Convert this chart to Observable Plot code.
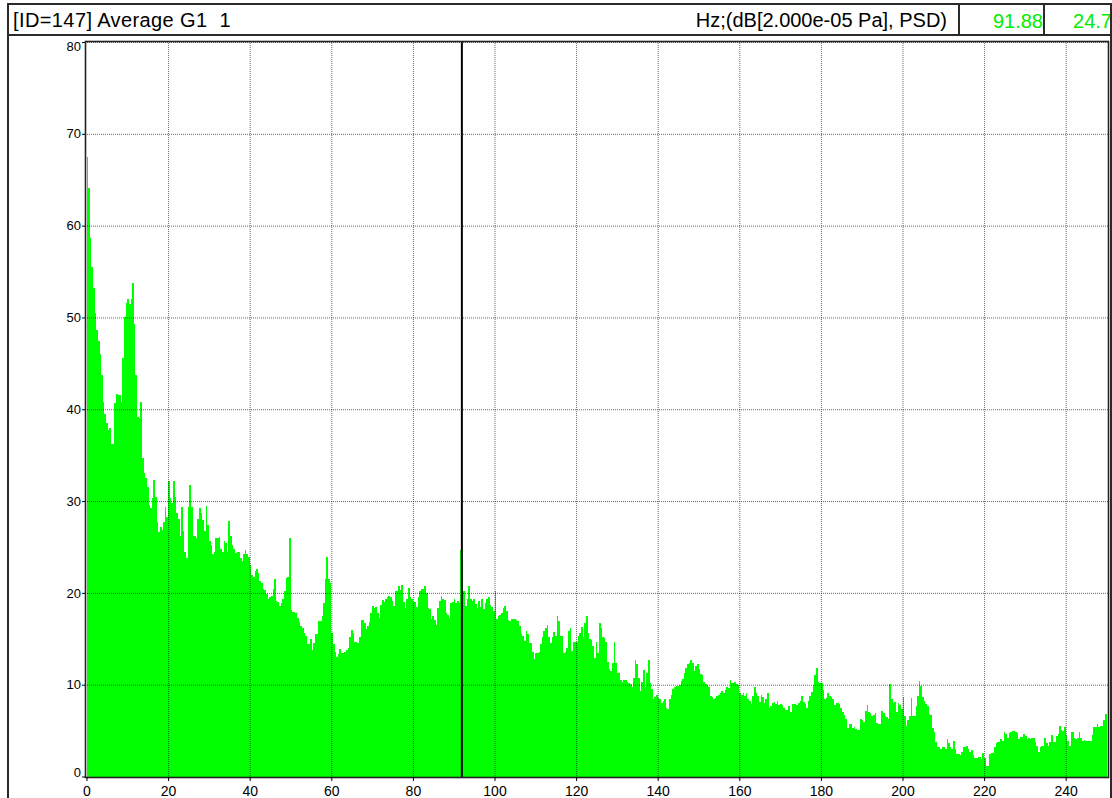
<!DOCTYPE html>
<html>
<head>
<meta charset="utf-8">
<script src="https://cdn.jsdelivr.net/npm/d3@7"></script>
<script src="https://cdn.jsdelivr.net/npm/@observablehq/plot@0.6"></script>
<style>
html, body { margin: 0; padding: 0; background: #fff; }
#page { position: relative; width: 1112px; height: 798px; overflow: hidden;
  font-family: "Liberation Sans", Arial, sans-serif; }
#header { position: relative; height: 38px; }
.box { position: absolute; box-sizing: border-box; border: 2px solid #2a2a2a; }
.txt { position: absolute; font-size: 20px; line-height: 20px; white-space: pre; color: #000; }
.green { color: #00ee00; text-align: right; }
.vline { position: absolute; top: 3px; width: 2px; height: 800px; background: #2a2a2a; }
#chart { position: absolute; left: 0; top: 38px; }
</style>
</head>
<body>
<div id="page">
  <div id="header">
    <div class="box" style="left:7px; top:3px; width:1105px; height:33px;"></div>
    <div class="box" style="left:958px; top:3px; width:87px; height:33px;"></div>
    <div class="box" style="left:1043px; top:3px; width:69px; height:33px;"></div>
    <div class="txt" id="titleL" style="left:13px; top:10px; letter-spacing:0.4px;"></div>
    <div class="txt" id="titleR" style="right:165px; top:10px;"></div>
    <div class="txt green" id="valF" style="left:960px; width:83px; top:11px;"></div>
    <div class="txt green" id="valL" style="left:1045px; width:67px; top:11px;"></div>
  </div>
  <div id="chart"></div>
  <div class="vline" style="left:7px;"></div>
  <div class="vline" style="left:1110px;"></div>
</div>
<script>
// ---- texts ----
const titleLeft = "[ID=147] Average G1  1";
const titleRight = "Hz;(dB[2.000e-05 Pa], PSD)";
const cursorFreq = 91.88;
const cursorLevel = 24.7;

// ---- axes ----
const xTicks = [0, 20, 40, 60, 80, 100, 120, 140, 160, 180, 200, 220, 240];
const yTicks = [0, 10, 20, 30, 40, 50, 60, 70, 80];
const binWidth = 0.4; // Hz

// ---- spectrum levels (dB), 0.4 Hz bins ----
const lv000 = [67.5, 64.1, 58.7, 55.5, 53.2, 50.5, 48.6, 47.4, 46, 43.7,
  40.8, 39.5, 38.5, 37.7, 38, 36.2, 36.2, 40.7, 41.7, 41.5,
  41.5, 40.8, 45.6, 50.1, 51.6, 52, 51.5, 52, 53.7, 49.3,
  43.7, 39.2, 39, 40.8, 34.7, 33.1, 32.5, 31.5, 29.6, 29.2,
  30.3, 32.3, 30.4, 27.7, 26.6, 27.2, 26.9, 27.7, 29.4, 28.3];
const lv020 = [32.2, 30.3, 29.8, 32.2, 30.4, 28.7, 28, 26.2, 29.4, 26.7,
  24.5, 23.8, 29.4, 31.8, 29.4, 26.2, 26.2, 26, 28, 29.2,
  28.7, 27.9, 26.7, 29.5, 27.4, 25.7, 25.2, 24.2, 24.5, 26,
  26, 26.1, 24.8, 24.5, 25.7, 25.4, 24.5, 27.8, 26.2, 25.2,
  24.8, 24.3, 24.5, 24.4, 23.8, 23.5, 24.2, 24.7, 24.2, 23.9];
const lv040 = [23.0, 22, 21.7, 22.4, 22.6, 22.2, 21.3, 21.1, 20.4, 20.3,
  19.9, 19.3, 19.6, 19.7, 20.4, 21.5, 19.1, 19, 18.6, 18.9,
  19.3, 20.2, 21.6, 21.7, 26, 18.1, 17.9, 17.9, 17.8, 17.3,
  16.8, 16.4, 16.2, 15.6, 15.3, 14.4, 14.4, 15, 13.8, 14.5,
  15.5, 15.5, 16.9, 16.9, 17.5, 18.9, 21.5, 23.9, 21.5, 21.1];
const lv060 = [15.6, 14.4, 13.6, 13, 13.3, 13.9, 13.5, 13.5, 13.6, 13.8,
  14, 15.2, 16, 15.6, 14.7, 14.7, 14.5, 15.2, 17.1, 17,
  16.7, 16.1, 16.4, 16.8, 17.8, 18.6, 18.4, 18.5, 17.8, 17.3,
  18.7, 19.2, 19, 19.3, 19.6, 19.7, 19.5, 19.1, 18.6, 20.2,
  20.2, 20.8, 20.3, 20.9, 19, 18.4, 19.3, 20.5, 19.6, 19.3];
const lv080 = [19, 19, 18.5, 19.6, 20.2, 20.4, 20.4, 20.7, 20, 18.4,
  18.2, 17.2, 17.5, 17, 16.5, 18.4, 19.1, 19.7, 19.3, 19.2,
  17.8, 17.6, 17.3, 18.9, 19, 19.3, 18.9, 19.1, 18.9, 24.7,
  23.6, 20.2, 18.6, 19.3, 20.8, 19.3, 19.1, 19.3, 18.8, 18.3,
  19.1, 18.5, 19.3, 18.2, 18.9, 19.3, 19.5, 18.7, 18.5, 18];
const lv100 = [20.2, 17.2, 17.5, 17.6, 17.8, 18.4, 18.6, 18, 17.1, 16.9,
  17.2, 17.2, 17.2, 17.1, 16.9, 16.4, 15.5, 15.3, 14.8, 15.8,
  15.5, 14.5, 14.5, 13.6, 12.8, 13.4, 13.5, 13.6, 14.4, 15.2,
  15.8, 16.2, 16.5, 15.2, 14.5, 15.2, 15.7, 15.3, 17.5, 16.9,
  15.3, 15.3, 13.4, 13.6, 14, 15.9, 16.2, 13.7, 14.7, 14.7];
const lv120 = [14.7, 15.3, 15.6, 16.3, 15.2, 16.7, 17.5, 15.6, 15, 14.9,
  14.2, 12.9, 14.7, 13.4, 16.7, 16.2, 15.2, 15.1, 14.7, 12.5,
  11.7, 11.5, 12.4, 14.6, 12.4, 11.3, 11.3, 10.5, 10.3, 10.5,
  10.5, 10.3, 10.2, 10.1, 9.8, 10.7, 12.7, 12.2, 10.7, 9.3,
  10.3, 11.6, 9.8, 11.3, 12.7, 10.2, 9.5, 8.4, 8.7, 8.9];
const lv140 = [8.5, 8.4, 8, 8.2, 8.4, 7.5, 7.3, 8.4, 8.9, 9.5,
  9.7, 9.9, 9.9, 10, 10.4, 10.6, 11.3, 11.8, 12.2, 12.4,
  12.7, 12.4, 11.5, 12, 12.3, 11.7, 11.2, 11.1, 10.3, 10.1,
  10, 9.7, 8.8, 8.7, 8.4, 8.6, 8.8, 8.9, 9.1, 9.3,
  9.1, 9.4, 9.7, 9.6, 10.5, 10.2, 10.2, 10.3, 10.1, 10];
const lv160 = [9.1, 8.9, 9.1, 8.8, 9.1, 8.4, 8.2, 7.9, 8.8, 9.8,
  9.1, 8.8, 8.1, 8.9, 8.7, 8, 8.4, 9.1, 7.5, 7.7,
  8, 8.1, 7.9, 8.2, 7.8, 7.9, 7.8, 7.5, 7.2, 7.2,
  7.7, 7, 7.9, 7.9, 7.9, 7.8, 8, 8.2, 8.8, 8.1,
  7.9, 7.5, 8.2, 8.8, 9.2, 10, 11.1, 11.8, 10.3, 10.2];
const lv180 = [10.2, 9.4, 8.4, 8.5, 9.1, 8.8, 8.7, 8.4, 7.8, 8,
  8, 7.9, 7.5, 7, 6.7, 6.3, 5.3, 5.7, 5.7, 5.3,
  5.4, 5.2, 5.1, 5.1, 6.3, 6.2, 5.9, 7.1, 7.8, 7,
  6.9, 6.6, 6.7, 6.9, 5.8, 5.7, 5.7, 7.1, 6.9, 6.6,
  6.5, 6.3, 10.1, 8.4, 8, 8.1, 7, 8, 7.8, 7.4];
const lv200 = [8.7, 6.6, 5.5, 6.2, 6.6, 8.5, 6.6, 6.6, 7.7, 8.8,
  10.4, 9.9, 8.7, 8.2, 7.9, 7.7, 6.8, 6.7, 5.3, 4.8,
  3.8, 3.2, 3.2, 3, 3.2, 3.2, 3, 4.1, 3.7, 3.2,
  3, 3.9, 3, 2.4, 2.5, 2.3, 2.7, 3.2, 3.2, 3.3,
  3, 2.7, 2.9, 2.3, 2, 2, 2.1, 2.1, 1.9, 2.6];
const lv220 = [2, 1.1, 1.1, 2.4, 2.6, 2.6, 3.2, 3.6, 3.8, 3.8,
  4.1, 3.9, 4.8, 4.6, 4.2, 4.7, 4.9, 5, 5, 4.9,
  4.7, 4.1, 4.3, 4.3, 4.6, 4.4, 4.1, 4.2, 4.1, 4.2,
  4.2, 3.8, 3.3, 2.7, 3.2, 3.3, 3.3, 4.2, 3.7, 3.3,
  3.8, 4.5, 3.8, 3.8, 4.4, 4.6, 5.5, 5.1, 5, 5.4];
const lv240 = [4.5, 3.9, 3.3, 4.8, 4.8, 4.2, 4.1, 4.2, 4.8, 4.2,
  3.9, 4, 3.9, 3.9, 3.9, 3.9, 4.5, 5.4, 5.4, 5.7,
  5.4, 5.5, 5.5, 6.2, 6.8];

const segments = [
  [0, lv000], [20, lv020], [40, lv040], [60, lv060], [80, lv080],
  [100, lv100], [120, lv120], [140, lv140], [160, lv160], [180, lv180],
  [200, lv200], [220, lv220], [240, lv240]
];

const bins = [];
for (const [start, levels] of segments) {
  levels.forEach((v, j) => {
    const f0 = start + j * binWidth;
    bins.push({f0, f1: f0 + binWidth, v});
  });
}

document.getElementById("titleL").textContent = titleLeft;
document.getElementById("titleR").textContent = titleRight;
document.getElementById("valF").textContent = cursorFreq.toFixed(2);
document.getElementById("valL").textContent = String(cursorLevel);

const font = "'Liberation Sans', Arial, sans-serif";
const gridStyle = {stroke: "#000", strokeOpacity: 0.6, strokeDasharray: "1,1", strokeWidth: 1};

const chart = Plot.plot({
  width: 1112,
  height: 760,
  marginLeft: 85,
  marginRight: 4,
  marginTop: 3,
  marginBottom: 21,
  style: {fontFamily: font, background: "transparent", color: "#000"},
  x: {domain: [0, 250], range: [86.5, 1106.5], axis: null},
  y: {domain: [0, 80], range: [738.5, 4], axis: null},
  marks: [
    Plot.rectY(bins, {x1: "f0", x2: "f1", y: "v", fill: "#00ff00", shapeRendering: "crispEdges"}),
    Plot.ruleX(xTicks.filter(d => d > 0), gridStyle),
    Plot.ruleY(yTicks.filter(d => d > 0), gridStyle),
    Plot.ruleX([cursorFreq], {stroke: "#000", strokeWidth: 2}),
    Plot.frame({stroke: "#222", strokeWidth: 1.6}),
    Plot.axisX({ticks: xTicks, tickSize: 4, tickPadding: 5, fontSize: 14, label: null, tickFormat: d => String(d)}),
    Plot.axisY({ticks: yTicks, tickSize: 3, label: null, tickFormat: () => ""}),
    Plot.text(yTicks.filter(d => d > 0 && d < 80), {y: d => d, text: d => String(d), frameAnchor: "left", textAnchor: "end", dx: -4.5, fontSize: 13}),
    Plot.text([80], {y: d => d, text: d => String(d), frameAnchor: "left", textAnchor: "end", dx: -4.5, dy: 4, fontSize: 13}),
    Plot.text([0], {y: d => d, text: d => String(d), frameAnchor: "left", textAnchor: "end", dx: -4.5, dy: -4, fontSize: 13})
  ]
});
document.getElementById("chart").appendChild(chart);
</script>
</body>
</html>
